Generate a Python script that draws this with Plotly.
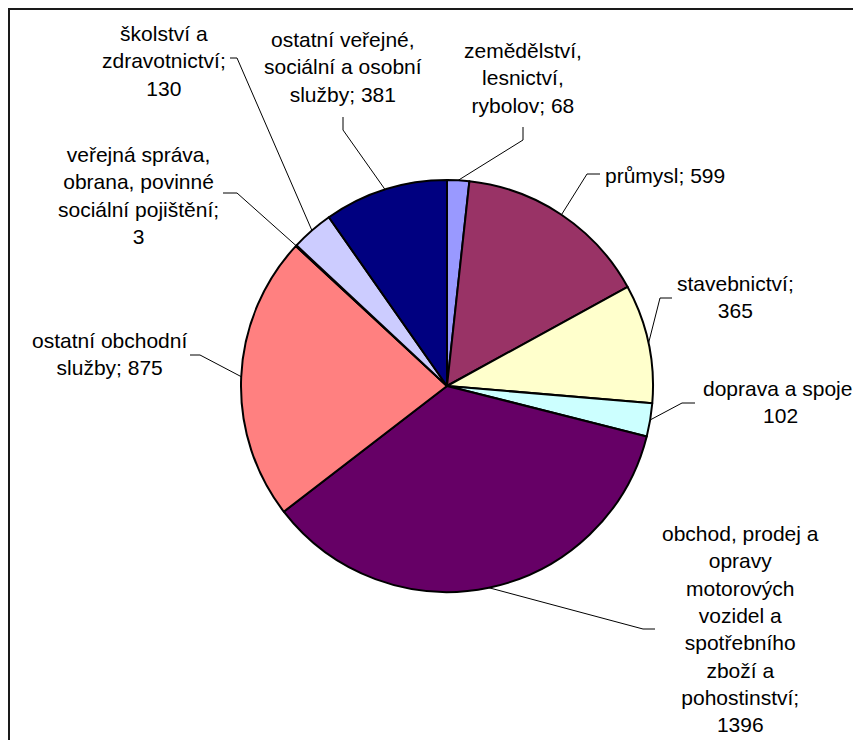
"""
Pie chart: počet subjektů podle odvětví (Excel-style labels with leader lines).
"""

import numpy as np
import plotly.graph_objects as go


W, H = 861, 740
OFF = 8  # page body margin the figure is drawn at

categories = [
    "zemědělství, lesnictví, rybolov",
    "průmysl",
    "stavebnictví",
    "doprava a spoje",
    "obchod, prodej a opravy motorových vozidel a spotřebního zboží a pohostinství",
    "ostatní obchodní služby",
    "veřejná správa, obrana, povinné sociální pojištění",
    "školství a zdravotnictví",
    "ostatní veřejné, sociální a osobní služby",
]
values = [68, 599, 365, 102, 1396, 875, 3, 130, 381]

# how the category names are wrapped in the data labels
wrapped = [
    "zemědělství,<br>lesnictví,<br>rybolov",
    "průmysl",
    "stavebnictví",
    "doprava a spoje",
    "obchod, prodej a<br>opravy<br>motorových<br>vozidel a<br>spotřebního<br>zboží a<br>pohostinství",
    "ostatní obchodní<br>služby",
    "veřejná správa,<br>obrana, povinné<br>sociální pojištění",
    "školství a<br>zdravotnictví",
    "ostatní veřejné,<br>sociální a osobní<br>služby",
]
value_sep = [" ", " ", "<br>", "<br>", "<br>", " ", "<br>", "<br>", " "]

COLORS = ["#9999FF", "#993366", "#FFFFCC", "#CCFFFF", "#660066",
          "#FF8080", "#0066CC", "#CCCCFF", "#000080"]

# pie placement (screen px)
CX, CY, R = 447, 386, 206

# label centres and leader-line elbows (screen px)
LABEL_XY = [(523, 78), (665, 175), (735, 297), (780, 402), (740, 629),
            (109, 354), (138, 195), (164, 61), (343, 67)]
LEADER = [
    [(523, 127), (523, 140)],
    [(600, 174), (587, 174)],
    [(672, 298), (660, 298)],
    [(695, 403), (682, 403)],
    [(655, 629), (643, 629)],
    [(190, 355), (200, 355)],
    [(223, 193), (237, 193)],
    [(230, 58), (237, 58)],
    [(343, 117), (343, 130)],
]

FONT = dict(family="Liberation Sans, Arial, sans-serif", size=21, color="#000000")

vals = np.array(values, dtype=float)
cum = np.cumsum(vals)
mid = (cum - vals / 2) / vals.sum() * 2 * np.pi
tip_x = CX + R * np.sin(mid)
tip_y = CY - R * np.cos(mid)

fig = go.Figure()

fig.add_trace(go.Pie(
    labels=categories,
    values=values,
    sort=False,
    direction="clockwise",
    rotation=0,
    textinfo="none",
    hoverinfo="label+value",
    marker=dict(colors=COLORS, line=dict(color="#000000", width=2)),
    domain=dict(x=[(CX - OFF - R) / W, (CX - OFF + R) / W],
                y=[1 - (CY - OFF + R) / H, 1 - (CY - OFF - R) / H]),
    showlegend=False,
))

lx, ly = [], []
for i in range(len(values)):
    (ex, ey), (bx, by) = LEADER[i]
    lx += [ex, bx, tip_x[i], None]
    ly += [ey, by, tip_y[i], None]

fig.add_trace(go.Scatter(
    x=lx, y=ly,
    mode="lines",
    line=dict(color="#000000", width=1),
    hoverinfo="skip",
    showlegend=False,
))

annotations = []
for i, v in enumerate(values):
    annotations.append(dict(
        x=LABEL_XY[i][0], y=LABEL_XY[i][1],
        xref="x", yref="y",
        text=f"{wrapped[i]};{value_sep[i]}{v}",
        showarrow=False,
        align="center",
        xanchor="center",
        yanchor="middle",
        font=FONT,
    ))

fig.update_layout(
    width=W,
    height=H,
    margin=dict(l=0, r=0, t=0, b=0),
    paper_bgcolor="#FFFFFF",
    plot_bgcolor="#FFFFFF",
    showlegend=False,
    xaxis=dict(range=[OFF, W + OFF], visible=False, fixedrange=True),
    yaxis=dict(range=[H + OFF, OFF], visible=False, fixedrange=True),
    annotations=annotations,
    shapes=[dict(
        type="rect", xref="x", yref="y",
        x0=9, x1=856, y0=9, y1=H + 40,
        line=dict(color="#1a1a1a", width=2),
    )],
)

fig.write_html("out.html")
